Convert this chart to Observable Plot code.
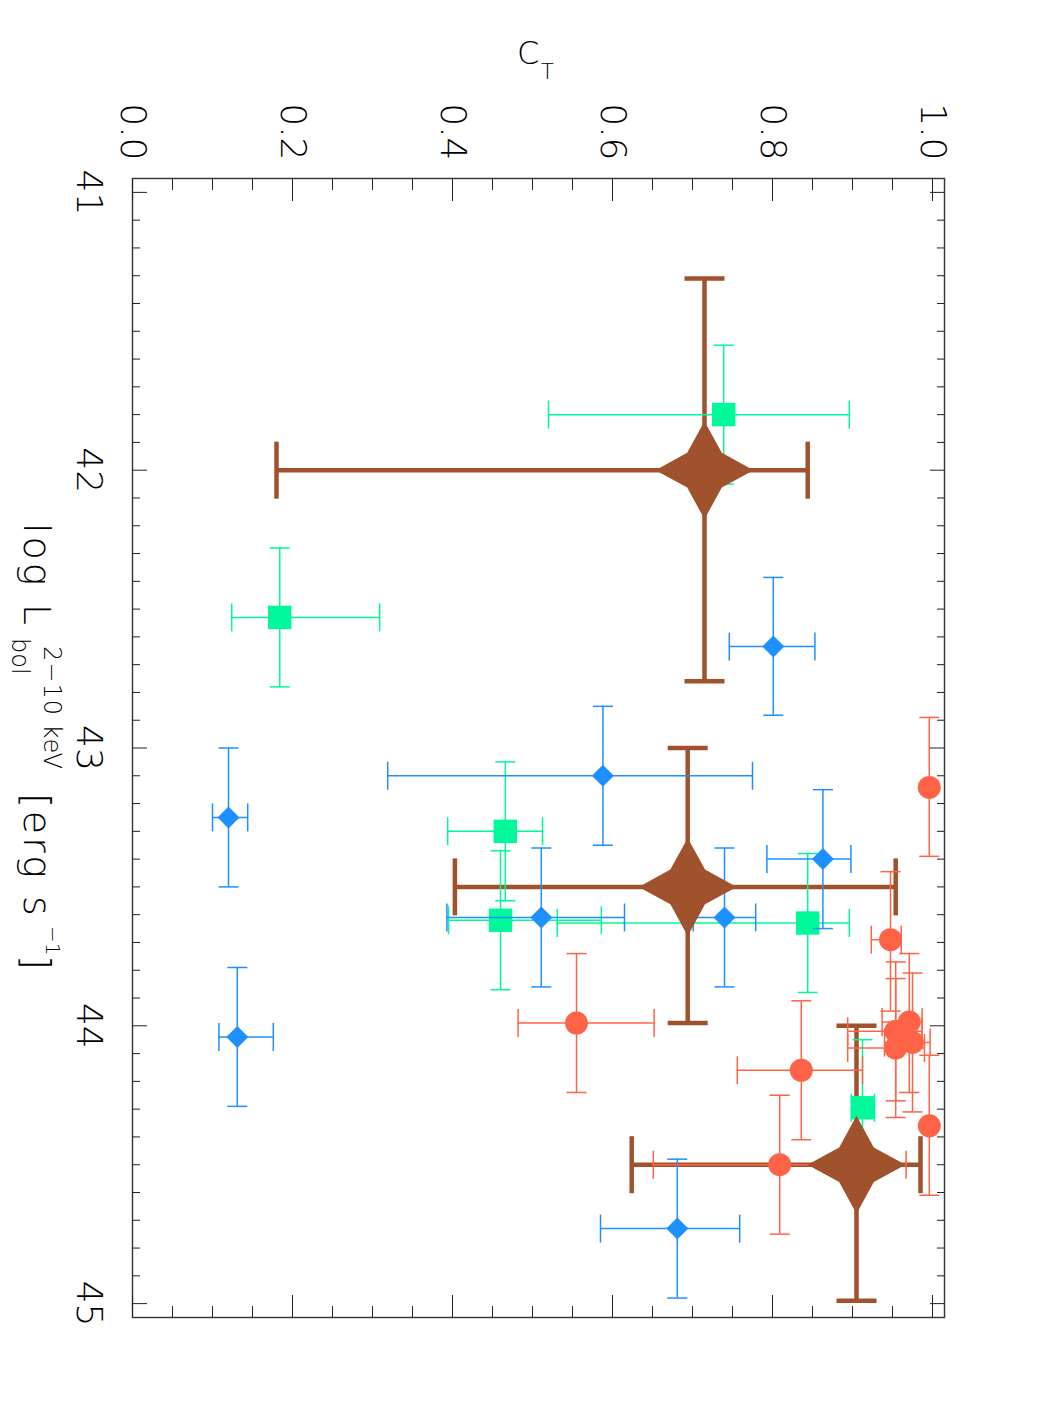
<!DOCTYPE html>
<html><head><meta charset="utf-8">
<script src="https://cdn.jsdelivr.net/npm/d3@7"></script>
<script src="https://cdn.jsdelivr.net/npm/@observablehq/plot@0.6"></script>
<style>
body{margin:0;background:#fff}
#chart{position:relative;width:1050px;height:1425px}
</style>
</head><body><div id="chart"></div>
<script>
// ---- tick labels ----
const xMajor = [0, 0.2, 0.4, 0.6, 0.8, 1.0];
const xMinor = [0.05,0.1,0.15,0.25,0.3,0.35,0.45,0.5,0.55,0.65,0.7,0.75,0.85,0.9,0.95];
const yMajor = [41, 42, 43, 44, 45];
const yMinor = [41.1,41.2,41.3,41.4,41.5,41.6,41.7,41.8,41.9,42.1,42.2,42.3,42.4,42.5,42.6,42.7,42.8,42.9,43.1,43.2,43.3,43.4,43.5,43.6,43.7,43.8,43.9,44.1,44.2,44.3,44.4,44.5,44.6,44.7,44.8,44.9];

// ---- brown stars (binned averages) ----
const starCT   = [0.715, 0.694, 0.905];
const starCTlo = [0.180, 0.403, 0.624];
const starCThi = [0.844, 0.954, 0.985];
const starL    = [42.00, 43.50, 44.50];
const starLlo  = [41.31, 43.00, 44.00];
const starLhi  = [42.76, 43.99, 44.99];

// ---- blue diamonds ----
const blueCT   = [0.801, 0.588, 0.863, 0.511, 0.740, 0.120, 0.131, 0.681];
const blueCTlo = [0.746, 0.319, 0.793, 0.393, 0.701, 0.100, 0.108, 0.585];
const blueCThi = [0.853, 0.775, 0.898, 0.615, 0.779, 0.144, 0.176, 0.759];
const blueL    = [42.635, 43.10, 43.40, 43.61, 43.61, 43.25, 44.04, 44.73];
const blueLlo  = [42.386, 42.85, 43.15, 43.36, 43.36, 43.00, 43.79, 44.48];
const blueLhi  = [42.882, 43.35, 43.65, 43.86, 43.86, 43.50, 44.29, 44.98];

// ---- green squares ----
const greenCT   = [0.739, 0.184, 0.466, 0.460, 0.844, 0.9125];
const greenCTlo = [0.520, 0.124, 0.394, 0.395, 0.531, 0.8985];
const greenCThi = [0.896, 0.309, 0.5125, 0.586, 0.896, 0.9275];
const greenL    = [41.80, 42.53, 43.30, 43.62, 43.63, 44.295];
const greenLlo  = [41.55, 42.28, 43.05, 43.37, 43.38, 44.05];
const greenLhi  = [42.05, 42.78, 43.55, 43.87, 43.88, 44.54];

// ---- red circles ----
const redCT   = [0.996, 0.9475, 0.971, 0.954, 0.954, 0.975, 0.555, 0.836, 0.996, 0.809];
const redCTlo = [null, 0.9235, 0.937, 0.894, 0.894, 0.940, 0.482, 0.756, null, 0.651];
const redCThi = [null, 0.961, 0.987, 0.987, 0.990, 0.997, 0.652, 0.9125, null, 0.967];
const redL    = [43.142, 43.69, 43.986, 44.02, 44.08, 44.06, 43.99, 44.16, 44.36, 44.50];
const redLlo  = [42.89, 43.445, 43.74, 43.77, 43.83, 43.81, 43.74, 43.91, 44.106, 44.25];
const redLhi  = [43.39, 43.947, 44.24, 44.27, 44.33, 44.31, 44.24, 44.41, 44.61, 44.75];

const rows = (c, lo, hi, L, Llo, Lhi) => c.map((v, i) => ({c: v, clo: lo[i], chi: hi[i], L: L[i], Llo: Llo[i], Lhi: Lhi[i]}));
const stars = rows(starCT, starCTlo, starCThi, starL, starLlo, starLhi);
const blues = rows(blueCT, blueCTlo, blueCThi, blueL, blueLlo, blueLhi);
const greens = rows(greenCT, greenCTlo, greenCThi, greenL, greenLlo, greenLhi);
const reds = rows(redCT, redCTlo, redCThi, redL, redLlo, redLhi);

// ---- custom symbols ----
const rad = s => Math.sqrt(s / Math.PI);
const capV = {draw(ctx, s) { const h = rad(s); ctx.moveTo(0, -h); ctx.lineTo(0, h); }};
const capH = {draw(ctx, s) { const h = rad(s); ctx.moveTo(-h, 0); ctx.lineTo(h, 0); }};
const star4 = {draw(ctx, s) {
  const R = rad(s), r = R * 0.5;
  for (let i = 0; i < 8; i++) {
    const a = i * Math.PI / 4 - Math.PI / 2, q = i % 2 ? r : R;
    const px = q * Math.cos(a), py = q * Math.sin(a);
    i ? ctx.lineTo(px, py) : ctx.moveTo(px, py);
  }
  ctx.closePath();
}};
const diamond = {draw(ctx, s) { const R = rad(s); ctx.moveTo(0, -R); ctx.lineTo(R, 0); ctx.lineTo(0, R); ctx.lineTo(-R, 0); ctx.closePath(); }};
const square = {draw(ctx, s) { const h = rad(s); ctx.moveTo(-h, -h); ctx.lineTo(h, -h); ctx.lineTo(h, h); ctx.lineTo(-h, h); ctx.closePath(); }};

function errorBars(data, color, sw, capX, capY) {
  const hx = data.filter(d => d.clo != null);
  return [
    Plot.ruleY(hx, {y: "L", x1: "clo", x2: "chi", stroke: color, strokeWidth: sw}),
    Plot.ruleX(data, {x: "c", y1: "Llo", y2: "Lhi", stroke: color, strokeWidth: sw}),
    Plot.dot(hx, {x: "clo", y: "L", symbol: capV, r: capX, stroke: color, strokeWidth: sw, fill: "none"}),
    Plot.dot(hx, {x: "chi", y: "L", symbol: capV, r: capX, stroke: color, strokeWidth: sw, fill: "none"}),
    Plot.dot(data, {x: "c", y: "Llo", symbol: capH, r: capY, stroke: color, strokeWidth: sw, fill: "none"}),
    Plot.dot(data, {x: "c", y: "Lhi", symbol: capH, r: capY, stroke: color, strokeWidth: sw, fill: "none"})
  ];
}

const BROWN = "#A0522D", BLUE = "#1E90FF", GREEN = "#00FA9A", RED = "#FF6347";
const FONT = "'DejaVu Sans', sans-serif";

const chart = Plot.plot({
  width: 1050, height: 1425,
  marginLeft: 132, marginRight: 106, marginTop: 178, marginBottom: 108,
  style: {fontFamily: FONT, fontWeight: 200, color: "#000", background: "#fff"},
  x: {domain: [0, 1.015], label: null},
  y: {domain: [40.95, 45.05], reverse: true, label: null},
  marks: [
    ...errorBars(stars, BROWN, 4.5, 28.5, 20),
    ...errorBars(greens, GREEN, 1.5, 14, 10),
    Plot.dot(greens, {x: "c", y: "L", symbol: square, r: 11.7, fill: GREEN, stroke: "none"}),
    ...errorBars(blues, BLUE, 1.5, 14, 10),
    Plot.dot(blues, {x: "c", y: "L", symbol: diamond, r: 11, fill: BLUE, stroke: "none"}),
    ...errorBars(reds, RED, 1.5, 14, 10),
    Plot.dot(reds, {x: "c", y: "L", symbol: "circle", r: 11.5, fill: RED, stroke: "none"}),
    Plot.dot(stars, {x: "c", y: "L", symbol: star4, r: 49, fill: BROWN, stroke: "none"}),
    Plot.frame({stroke: "#333", strokeWidth: 1.4}),
    // tick labels
    Plot.axisX({anchor: "top", ticks: xMajor, tickFormat: d3.format(".1f"), tickSize: 0, tickPadding: 18, tickRotate: 90, fontSize: 36, label: null}),
    Plot.axisY({anchor: "left", ticks: yMajor, tickFormat: d => String(d), tickSize: 0, tickPadding: 30, tickRotate: 90, fontSize: 36, label: null}),
    // inward ticks on all four sides
    Plot.axisX({anchor: "top", ticks: xMajor, tickSize: -22, fill: "none", label: null, stroke: "#222"}),
    Plot.axisX({anchor: "top", ticks: xMinor, tickSize: -11, fill: "none", label: null, stroke: "#222"}),
    Plot.axisX({anchor: "bottom", ticks: xMajor, tickSize: -22, fill: "none", label: null, stroke: "#222"}),
    Plot.axisX({anchor: "bottom", ticks: xMinor, tickSize: -11, fill: "none", label: null, stroke: "#222"}),
    Plot.axisY({anchor: "left", ticks: yMajor, tickSize: -15, fill: "none", label: null, stroke: "#222"}),
    Plot.axisY({anchor: "left", ticks: yMinor, tickSize: -8, fill: "none", label: null, stroke: "#222"}),
    Plot.axisY({anchor: "right", ticks: yMajor, tickSize: -15, fill: "none", label: null, stroke: "#222"}),
    Plot.axisY({anchor: "right", ticks: yMinor, tickSize: -8, fill: "none", label: null, stroke: "#222"})
  ]
});
document.getElementById("chart").appendChild(chart);

// ---- axis titles (with sub/superscripts) ----
const svg = d3.select(chart);
const g = svg.append("g").attr("font-family", FONT).attr("font-weight", 200)
  .attr("fill", "#000").attr("text-anchor", "start");
function t(x, y, rot, str, size, ls) {
  g.append("text")
    .attr("transform", `translate(${x},${y}) rotate(${rot})`)
    .attr("font-size", size)
    .attr("letter-spacing", ls || 0)
    .text(str);
}
// C_T (top)
t(517, 64, 0, "C", 32);
t(541, 79, 0, "T", 21);
// log L_bol^{2-10 keV} [erg s^-1] (left, rotated)
t(24, 523, 90, "log L", 38, 3);
t(12, 638, 90, "bol", 24);
t(44, 646, 90, "2−10 keV", 24, 1);
t(24, 793, 90, "[erg s", 38, 3);
t(46, 926, 90, "−1", 20);
t(24, 955, 90, "]", 38);
</script>
</body></html>
